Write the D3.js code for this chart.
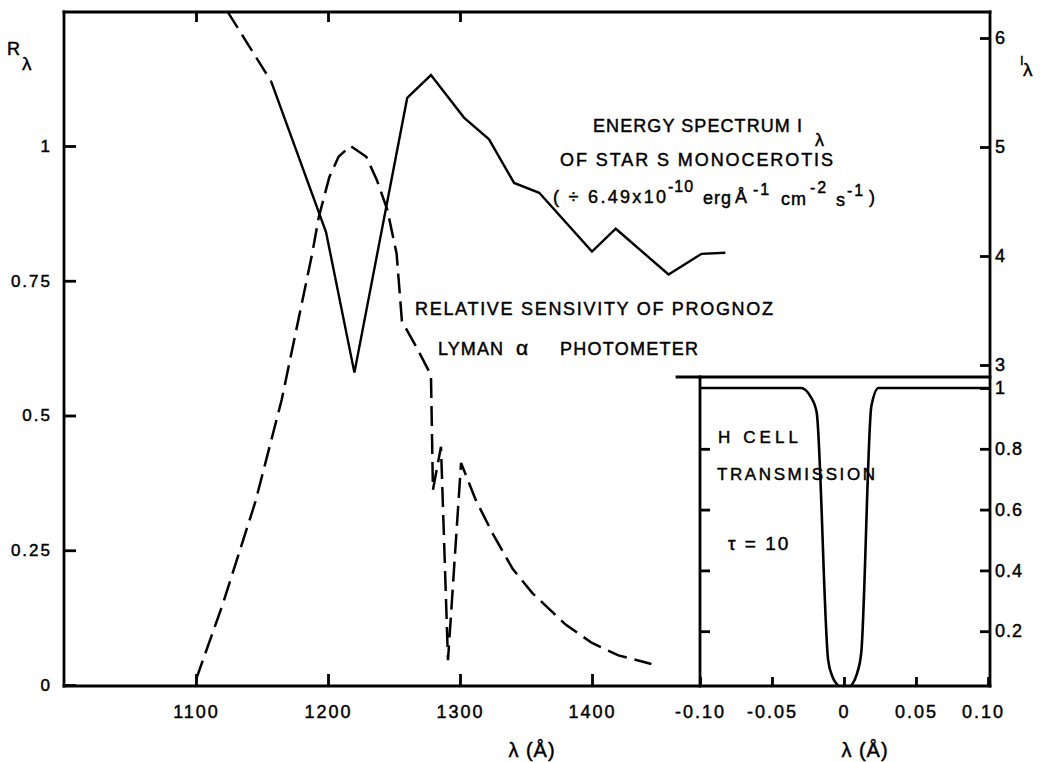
<!DOCTYPE html>
<html>
<head>
<meta charset="utf-8">
<script src="https://cdn.jsdelivr.net/npm/d3@7"></script>
<style>
  body { margin: 0; background: #fff; }
  svg { display: block; font-family: "Liberation Sans", Arial, Helvetica, sans-serif; }
  svg text { stroke: #000; stroke-width: 0.45px; }
</style>
</head>
<body>
<svg id="chart" width="1040" height="762"></svg>
<script>
// Relative sensitivity R(λ) of the Prognoz Lyman-α photometer (left axis)
const sensWave  = [1100, 1120, 1145, 1165, 1188, 1193, 1201, 1208, 1217, 1229, 1237, 1245, 1252, 1256, 1267, 1278, 1279.5, 1285.6, 1290.9, 1300.8, 1312, 1325, 1340, 1355, 1380, 1400, 1420, 1445];
const sensValue = [0.01, 0.148, 0.34, 0.53, 0.80, 0.868, 0.942, 0.98, 1.0, 0.98, 0.937, 0.881, 0.80, 0.675, 0.627, 0.575, 0.362, 0.442, 0.046, 0.412, 0.343, 0.28, 0.215, 0.17, 0.112, 0.078, 0.055, 0.039];

// Energy spectrum I(λ) of S Monocerotis (right axis); first segment is extrapolated (dashed)
const specWave  = [1124, 1157, 1198.5, 1220, 1260, 1278, 1303, 1322, 1341, 1360, 1400, 1418, 1458, 1483, 1501];
const specValue = [6.24, 5.60, 4.22, 2.93, 5.45, 5.66, 5.27, 5.07, 4.67, 4.58, 4.04, 4.25, 3.83, 4.02, 4.03];
const specDashedCount = 2;

// Hydrogen cell transmission versus wavelength offset (inset)
const cellShift = [-0.1, -0.030, -0.023, -0.019, -0.011, -0.008, -0.004, 0, 0.005, 0.009, 0.012, 0.019, 0.024, 0.1];
const cellTrans = [1.0, 1.0, 0.97, 0.92, 0.105, 0.05, 0.02, 0.0, 0.02, 0.06, 0.13, 0.94, 1.0, 1.0];

// Tick values and labels
const sensTicks = [0, 0.25, 0.5, 0.75, 1];
const sensTickLabels = ["0", "0.25", "0.5", "0.75", "1"];
const waveTicks = [1100, 1200, 1300, 1400];
const waveTickLabels = ["1100", "1200", "1300", "1400"];
const specTicks = [3, 4, 5, 6];
const specTickLabels = ["3", "4", "5", "6"];
const shiftTicks = [-0.1, -0.05, 0, 0.05, 0.1];
const shiftTickLabels = ["-0.10", "-0.05", "0", "0.05", "0.10"];
const transTicks = [0.2, 0.4, 0.6, 0.8, 1];
const transTickLabels = ["0.2", "0.4", "0.6", "0.8", "1"];

const svg = d3.select("#chart");
const L = 64, T = 12, R = 990, B = 686;
const insetL = 700, insetT = 377;

const x  = d3.scaleLinear().domain([1000, 1500]).range([64, 724]);
const yR = d3.scaleLinear().domain([0, 1]).range([685, 146]);
const yI = d3.scaleLinear().domain([3, 6]).range([365, 38]);
const xC = d3.scaleLinear().domain([-0.1, 0.1]).range([insetL, 988]);
const yC = d3.scaleLinear().domain([0, 1]).range([692, 388]);

svg.append("rect").attr("width", 1040).attr("height", 762).attr("fill", "#fff");

svg.append("defs").append("clipPath").attr("id", "plotClip")
  .append("rect").attr("x", L).attr("y", T).attr("width", R - L).attr("height", B - T);
svg.select("defs").append("clipPath").attr("id", "insetClip")
  .append("rect").attr("x", insetL).attr("y", insetT).attr("width", R - insetL).attr("height", B - insetT);

function styleAxis(g, fs, ls) {
  g.attr("font-family", null).attr("font-size", fs);
  g.select(".domain").remove();
  g.selectAll(".tick line").attr("stroke", "#000").attr("stroke-width", 2.8);
  g.selectAll(".tick text").attr("fill", "#000").style("letter-spacing", ls + "px");
}

// Left axis: R_λ
svg.append("g").attr("transform", `translate(${L},0)`)
  .call(d3.axisLeft(yR).tickValues(sensTicks).tickFormat((d, i) => sensTickLabels[i]).tickSize(-12).tickPadding(12))
  .call(g => styleAxis(g, 17, 2));

// Bottom axis: wavelength
svg.append("g").attr("transform", `translate(0,${B})`)
  .call(d3.axisBottom(x).tickValues(waveTicks).tickFormat((d, i) => waveTickLabels[i]).tickSize(-12).tickPadding(19))
  .call(g => styleAxis(g, 18, 2));

// Top ticks
svg.append("g").attr("transform", `translate(0,${T})`)
  .call(d3.axisTop(x).tickValues(waveTicks.slice(0, 3)).tickFormat("").tickSize(-10))
  .call(g => styleAxis(g, 18, 2));

// Right axis: I_λ
svg.append("g").attr("transform", `translate(${R},0)`)
  .call(d3.axisRight(yI).tickValues(specTicks).tickFormat((d, i) => specTickLabels[i]).tickSize(-10).tickPadding(5))
  .call(g => styleAxis(g, 18, 1));

// Inset bottom axis
svg.append("g").attr("transform", `translate(0,${B})`)
  .call(d3.axisBottom(xC).tickValues(shiftTicks).tickFormat((d, i) => shiftTickLabels[i]).tickSize(-9).tickPadding(19))
  .call(g => styleAxis(g, 18, 2))
  .call(g => g.selectAll(".tick text").filter(d => d === 0.1).attr("dx", -5));

// Inset right axis
svg.append("g").attr("transform", `translate(${R},0)`)
  .call(d3.axisRight(yC).tickValues(transTicks).tickFormat((d, i) => transTickLabels[i]).tickSize(-10).tickPadding(5))
  .call(g => styleAxis(g, 18, 1));

// Inset left ticks
svg.append("g").attr("transform", `translate(${insetL},0)`)
  .call(d3.axisLeft(yC).tickValues(transTicks.slice(0, 4)).tickFormat("").tickSize(-10))
  .call(g => styleAxis(g, 18, 1));

// Frame lines
const frame = svg.append("g").attr("stroke", "#000").attr("stroke-width", 2.8).attr("stroke-linecap", "square");
frame.append("line").attr("x1", L).attr("y1", T).attr("x2", R).attr("y2", T);
frame.append("line").attr("x1", L).attr("y1", T).attr("x2", L).attr("y2", B);
frame.append("line").attr("x1", R).attr("y1", T).attr("x2", R).attr("y2", B);
frame.append("line").attr("x1", L).attr("y1", B).attr("x2", R).attr("y2", B);
frame.append("line").attr("x1", 677).attr("y1", insetT).attr("x2", R).attr("y2", insetT);
frame.append("line").attr("x1", insetL).attr("y1", insetT).attr("x2", insetL).attr("y2", B);

// Sensitivity curve (dashed)
const sensData = sensWave.map((w, i) => [w, sensValue[i]]);
svg.append("path").datum(sensData)
  .attr("clip-path", "url(#plotClip)")
  .attr("fill", "none").attr("stroke", "#000").attr("stroke-width", 2.5)
  .attr("stroke-dasharray", "20,8")
  .attr("d", d3.line().x(d => x(d[0])).y(d => yR(d[1])));

// Spectrum curve: dashed extrapolation then solid
const specData = specWave.map((w, i) => [w, specValue[i]]);
const specLine = d3.line().x(d => x(d[0])).y(d => yI(d[1]));
svg.append("path").datum(specData.slice(0, specDashedCount))
  .attr("clip-path", "url(#plotClip)")
  .attr("fill", "none").attr("stroke", "#000").attr("stroke-width", 2.4)
  .attr("stroke-dasharray", "19,8")
  .attr("d", specLine);
svg.append("path").datum(specData.slice(specDashedCount - 1))
  .attr("clip-path", "url(#plotClip)")
  .attr("fill", "none").attr("stroke", "#000").attr("stroke-width", 2.4)
  .attr("stroke-linejoin", "miter")
  .attr("d", specLine);

// Transmission curve (inset)
const cellData = cellShift.map((s, i) => [s, cellTrans[i]]);
svg.append("path").datum(cellData)
  .attr("clip-path", "url(#insetClip)")
  .attr("fill", "none").attr("stroke", "#000").attr("stroke-width", 2.6)
  .attr("d", d3.line().curve(d3.curveMonotoneX).x(d => xC(d[0])).y(d => yC(d[1])));

// Axis titles
const txt = svg.append("g").attr("fill", "#000");
txt.append("text").attr("x", 7).attr("y", 55).attr("font-size", 18).text("R");
txt.append("text").attr("x", 22).attr("y", 70).attr("font-size", 19).text("λ");
txt.append("text").attr("x", 1020).attr("y", 65).attr("font-size", 13).text("I");
txt.append("text").attr("x", 1023).attr("y", 76).attr("font-size", 19).text("λ");
txt.append("text").attr("x", 532).attr("y", 757).attr("font-size", 20).attr("text-anchor", "middle")
  .style("letter-spacing", "1px").text("λ (Å)");
txt.append("text").attr("x", 865).attr("y", 757).attr("font-size", 20).attr("text-anchor", "middle")
  .style("letter-spacing", "1px").text("λ (Å)");

// Spectrum annotation
txt.append("text").attr("x", 593).attr("y", 132).attr("font-size", 18)
  .attr("textLength", 209).attr("lengthAdjust", "spacing").text("ENERGY SPECTRUM I");
txt.append("text").attr("x", 815).attr("y", 146).attr("font-size", 18).text("λ");
txt.append("text").attr("x", 560).attr("y", 166).attr("font-size", 18)
  .attr("textLength", 273).attr("lengthAdjust", "spacing").text("OF STAR S MONOCEROTIS");
const unit = txt.append("text").attr("font-size", 18);
unit.append("tspan").attr("x", 553).attr("y", 203).attr("textLength", 113).attr("lengthAdjust", "spacing").text("( ÷ 6.49x10");
unit.append("tspan").attr("x", 668).attr("y", 192).attr("font-size", 16).style("letter-spacing", "1px").text("-10");
unit.append("tspan").attr("x", 703).attr("y", 204).style("letter-spacing", "1px").text("erg");
unit.append("tspan").attr("x", 735).attr("y", 203).text("Å");
unit.append("tspan").attr("x", 753).attr("y", 195).attr("font-size", 16).style("letter-spacing", "2px").text("-1");
unit.append("tspan").attr("x", 781).attr("y", 205).style("letter-spacing", "1px").text("cm");
unit.append("tspan").attr("x", 810).attr("y", 193).attr("font-size", 16).style("letter-spacing", "2px").text("-2");
unit.append("tspan").attr("x", 836).attr("y", 206).text("s");
unit.append("tspan").attr("x", 847).attr("y", 196).attr("font-size", 16).style("letter-spacing", "2px").text("-1");
unit.append("tspan").attr("x", 869).attr("y", 203).text(")");

// Sensitivity annotation
txt.append("text").attr("x", 415).attr("y", 315).attr("font-size", 18)
  .attr("textLength", 358).attr("lengthAdjust", "spacing").text("RELATIVE SENSIVITY OF PROGNOZ");
txt.append("text").attr("x", 438).attr("y", 355).attr("font-size", 18)
  .attr("textLength", 65).attr("lengthAdjust", "spacing").text("LYMAN");
txt.append("text").attr("x", 516).attr("y", 355).attr("font-size", 21).text("α");
txt.append("text").attr("x", 560).attr("y", 355).attr("font-size", 18)
  .attr("textLength", 138).attr("lengthAdjust", "spacing").text("PHOTOMETER");

// Inset annotation
txt.append("text").attr("x", 718).attr("y", 443).attr("font-size", 17)
  .attr("textLength", 80).attr("lengthAdjust", "spacing").text("H CELL");
txt.append("text").attr("x", 717).attr("y", 480).attr("font-size", 17)
  .attr("textLength", 158).attr("lengthAdjust", "spacing").text("TRANSMISSION");
txt.append("text").attr("x", 728).attr("y", 550).attr("font-size", 19)
  .style("letter-spacing", "2px").text("τ = 10");
</script>
</body>
</html>
